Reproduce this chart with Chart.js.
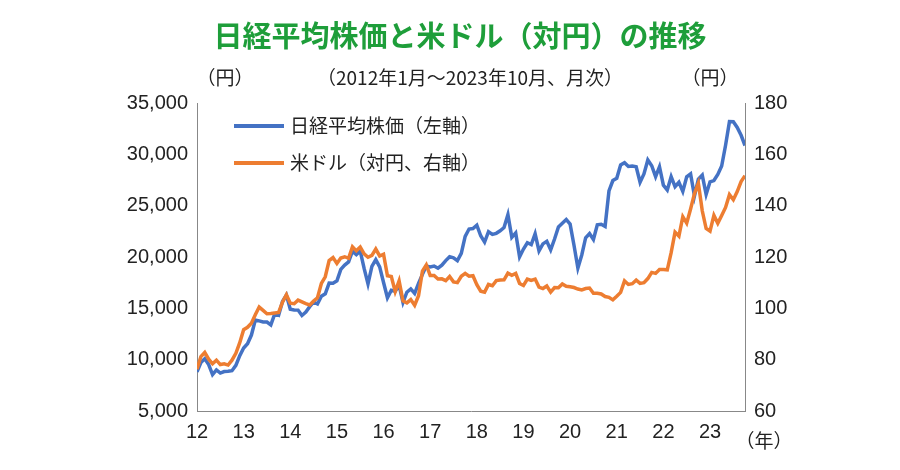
<!DOCTYPE html>
<html>
<head>
<meta charset="utf-8">
<script src="https://cdn.jsdelivr.net/npm/chart.js@4.4.0/dist/chart.umd.min.js"></script>
<style>
  body { margin: 0; background: #fff; }
  #wrap { width: 900px; height: 470px; }
</style>
</head>
<body>
<div id="wrap"><canvas id="c" width="900" height="470"></canvas></div>
<script>
// 月次データ 2012年1月～2023年10月
const yearLabels = ["12", "13", "14", "15", "16", "17", "18", "19", "20", "21", "22", "23"]

const nikkei = [
  8803, 9723, 10084, 9521, 8543, 9007, 8695, 8840, 8870, 8928, 9446, 10395,
  11139, 11559, 12398, 13861, 13775, 13677, 13668, 13389, 14456, 14328, 15662, 16291,
  14915, 14841, 14828, 14304, 14632, 15162, 15621, 15425, 16174, 16414, 17460, 17451,
  17674, 18798, 19207, 19520, 20563, 20236, 20585, 18890, 17388, 19083, 19747, 19034,
  17518, 16027, 16759, 16666, 17235, 15576, 16569, 16887, 16450, 17425, 18308, 19114,
  19041, 19119, 18909, 19197, 19651, 20033, 19925, 19646, 20356, 22012, 22725, 22765,
  23098, 22068, 21454, 22468, 22202, 22305, 22554, 22865, 24120, 21920, 22351, 20015,
  20773, 21385, 21206, 22259, 20601, 21276, 21522, 20704, 21756, 22927, 23294, 23657,
  23205, 21143, 18917, 20194, 21878, 22288, 21710, 23140, 23185, 22977, 26434, 27444,
  27663, 28966, 29179, 28813, 28860, 28792, 27284, 28090, 29453, 28893, 27822, 28792,
  27002, 26527, 27821, 26848, 27280, 26393, 27802, 28092, 25937, 27587, 27969, 26095,
  27327, 27446, 28041, 28856, 30888, 33189, 33172, 32619, 31858, 30859
]

const usdjpy = [
  76.3, 81.2, 82.8, 80.2, 78.4, 79.8, 78.1, 78.4, 77.9, 79.8, 82.5, 86.6,
  91.7, 92.6, 94.2, 97.5, 100.5, 99.2, 97.9, 98.0, 98.2, 98.4, 102.4, 105.3,
  102.0, 101.8, 103.2, 102.5, 101.8, 101.3, 102.8, 104.1, 109.7, 112.3, 118.6, 119.8,
  117.5, 119.6, 120.1, 119.5, 124.0, 122.4, 123.9, 121.2, 119.9, 120.6, 123.1, 120.4,
  121.1, 112.7, 112.4, 106.5, 110.7, 102.9, 102.1, 103.4, 101.2, 104.9, 114.5, 116.9,
  112.8, 112.8, 111.4, 111.5, 110.8, 112.4, 110.3, 110.0, 112.5, 113.6, 112.5, 112.7,
  109.2, 106.7, 106.3, 109.3, 108.8, 110.8, 111.0, 111.1, 113.7, 112.9, 113.6, 109.7,
  108.9, 111.4, 110.9, 111.4, 108.3, 107.7, 108.7, 106.3, 108.1, 108.0, 109.5, 108.6,
  108.4, 108.1, 107.5, 107.2, 107.7, 107.9, 105.9, 105.9, 105.6, 104.6, 104.3, 103.3,
  104.7, 106.2, 110.7, 109.3, 109.6, 111.0, 109.7, 110.0, 111.6, 114.0, 113.6, 115.1,
  115.1, 115.0, 121.7, 129.7, 128.1, 135.7, 133.2, 138.7, 144.7, 148.7, 138.0, 131.1,
  130.1, 136.2, 133.1, 136.2, 139.3, 144.3, 142.3, 145.5, 149.4, 151.7
]

const BLUE = "#4472c4"
const ORANGE = "#ed7d31"
const FONT = "'Noto Sans CJK JP', 'Noto Sans', sans-serif"
const NUM_FONT = "'Liberation Sans', Arial, sans-serif"

const toPoints = (arr) => arr.map((v, i) => ({ x: i, y: v }))

// タイトル・注記・凡例を描く
const decor = {
  id: "decor",
  afterDraw(chart) {
    const ctx = chart.ctx
    ctx.save()
    ctx.textBaseline = "middle"
    ctx.textAlign = "center"
    ctx.fillStyle = "#1e9e3a"
    ctx.font = "bold 29px " + FONT
    ctx.fillText("日経平均株価と米ドル（対円）の推移", 460, 36)

    ctx.fillStyle = "#222"
    ctx.font = "19px " + FONT
    ctx.fillText("（円）", 225, 78)
    ctx.fillText("（2012年1月～2023年10月、月次）", 470, 78)
    ctx.fillText("（円）", 710, 78)
    ctx.fillText("（年）", 764, 441)

    const items = [["日経平均株価（左軸）", BLUE], ["米ドル（対円、右軸）", ORANGE]]
    items.forEach(([label, color], i) => {
      const y = 126 + i * 37
      ctx.strokeStyle = color
      ctx.lineWidth = 4
      ctx.beginPath()
      ctx.moveTo(234, y)
      ctx.lineTo(284, y)
      ctx.stroke()
      ctx.textAlign = "left"
      ctx.fillText(label, 290, y)
    })
    ctx.restore()
  }
}

new Chart(document.getElementById("c"), {
  type: "line",
  data: {
    datasets: [
      { label: "米ドル", data: toPoints(usdjpy), yAxisID: "y2", borderColor: ORANGE, borderWidth: 3.5, pointRadius: 0, tension: 0 },
      { label: "日経平均株価", data: toPoints(nikkei), yAxisID: "y", borderColor: BLUE, borderWidth: 3.5, pointRadius: 0, tension: 0 }
    ]
  },
  options: {
    responsive: false,
    animation: false,
    layout: { padding: { top: 103, left: 0, right: 0, bottom: 0 } },
    plugins: { legend: { display: false }, tooltip: { enabled: false } },
    scales: {
      x: {
        type: "linear",
        min: 0,
        max: 141,
        afterFit: (s) => { s.height = 59 },
        afterBuildTicks: (s) => { s.ticks = yearLabels.map((_, i) => ({ value: i * 12 })) },
        grid: { display: false, drawTicks: true, tickLength: 5 },
        border: { color: "#888" },
        ticks: {
          color: "#222",
          font: { size: 20, family: NUM_FONT },
          padding: 4,
          maxRotation: 0,
          callback: (v) => yearLabels[v / 12]
        }
      },
      y: {
        position: "left",
        min: 5000,
        max: 35000,
        afterFit: (s) => { s.width = 197 },
        grid: { display: false, tickLength: 6 },
        border: { color: "#888" },
        ticks: {
          stepSize: 5000,
          color: "#222",
          font: { size: 20, family: NUM_FONT },
          callback: (v) => v.toLocaleString("en-US")
        }
      },
      y2: {
        position: "right",
        min: 60,
        max: 180,
        afterFit: (s) => { s.width = 155 },
        grid: { display: false, tickLength: 6 },
        border: { color: "#888" },
        ticks: { stepSize: 20, color: "#222", font: { size: 20, family: NUM_FONT } }
      }
    }
  },
  plugins: [decor]
})
</script>
</body>
</html>
